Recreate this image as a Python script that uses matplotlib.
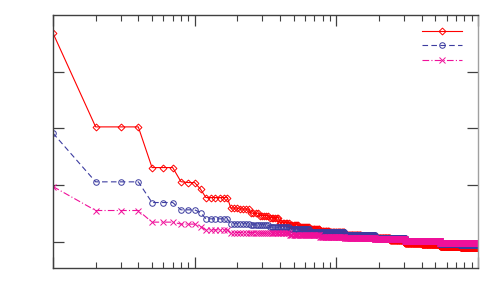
import numpy as np
import matplotlib
matplotlib.use('Agg')
import matplotlib.pyplot as plt

# step levels: (first n of the step, value)
n_max = 1000
red_starts = [1, 2, 5, 8, 9, 11, 12, 18, 21, 25, 29, 34, 40, 47, 55, 65, 77, 90,
              115, 150, 187, 240, 305, 400, 540, 750]
red_vals = [0.468, 0.3025, 0.2307, 0.2058, 0.2042, 0.1926, 0.1778, 0.1591, 0.1573,
            0.1503, 0.1460, 0.1425, 0.1337, 0.1296, 0.1266, 0.1226, 0.1196, 0.1164,
            0.1120, 0.1090, 0.1062, 0.1023, 0.0979, 0.0952, 0.0926, 0.0903]

blue_starts = [1, 2, 5, 8, 11, 12, 18, 25, 34, 47, 65, 77, 115, 187, 305, 540, 750]
blue_vals = [0.2914, 0.2055, 0.1690, 0.1561, 0.1513, 0.1402, 0.1314, 0.1296, 0.1256,
             0.1221, 0.1178, 0.1161, 0.1120, 0.1067, 0.1005, 0.0965, 0.0944]

pink_starts = [1, 2, 5, 8, 11, 12, 18, 29, 47, 77, 115, 187, 305, 540, 750]
pink_vals = [0.1972, 0.1549, 0.1344, 0.1309, 0.1266, 0.1208, 0.1160, 0.1150, 0.1120,
             0.1090, 0.1071, 0.1041, 0.1002, 0.0984, 0.0974]


def expand(starts, vals):
    # repeat each step level until the next step starts
    counts = np.diff(starts + [n_max + 1])
    return np.repeat(vals, counts)


n = np.arange(1, n_max + 1)
red = expand(red_starts, red_vals)
blue = expand(blue_starts, blue_vals)
pink = expand(pink_starts, pink_vals)

fig = plt.figure(figsize=(5, 3), dpi=100)
ax = fig.add_axes([0.106, 0.107, 0.85, 0.843])

ax.plot(n, red, color='#ff0000', lw=0.8, ls='-', marker='D', ms=3.5,
        mfc='none', mew=0.7, label=' ')
ax.plot(n, blue, color='#3c3ca0', lw=0.8, ls=(0, (5, 3)), marker='o', ms=4,
        mfc='none', mew=0.7, label=' ')
ax.plot(n, pink, color='#f0109a', lw=0.8, ls=(0, (6, 2, 1, 2)), marker='x', ms=4,
        mew=0.7, label=' ')

ax.set_xscale('log')
ax.set_xlim(1, 1000)
ax.set_ylim(0.0536, 0.5)
ax.set_yticks([0.1, 0.2, 0.3, 0.4])

ax.tick_params(which='both', direction='in', top=True, right=True,
               labelbottom=False, labelleft=False, color='#404040')
ax.tick_params(which='major', length=8, width=0.9)
ax.tick_params(which='minor', length=4, width=0.8)
for s in ax.spines.values():
    s.set_color('#404040')
    s.set_linewidth(1)
ax.spines['right'].set_color('#a0a0a0')

ax.legend(loc='upper right', frameon=False, numpoints=1, handlelength=3.6,
          fontsize=8, borderaxespad=0.3, labelspacing=0.42, handletextpad=0.3,
          bbox_to_anchor=(0.997, 0.985))

fig.savefig('out.png', dpi=100)
